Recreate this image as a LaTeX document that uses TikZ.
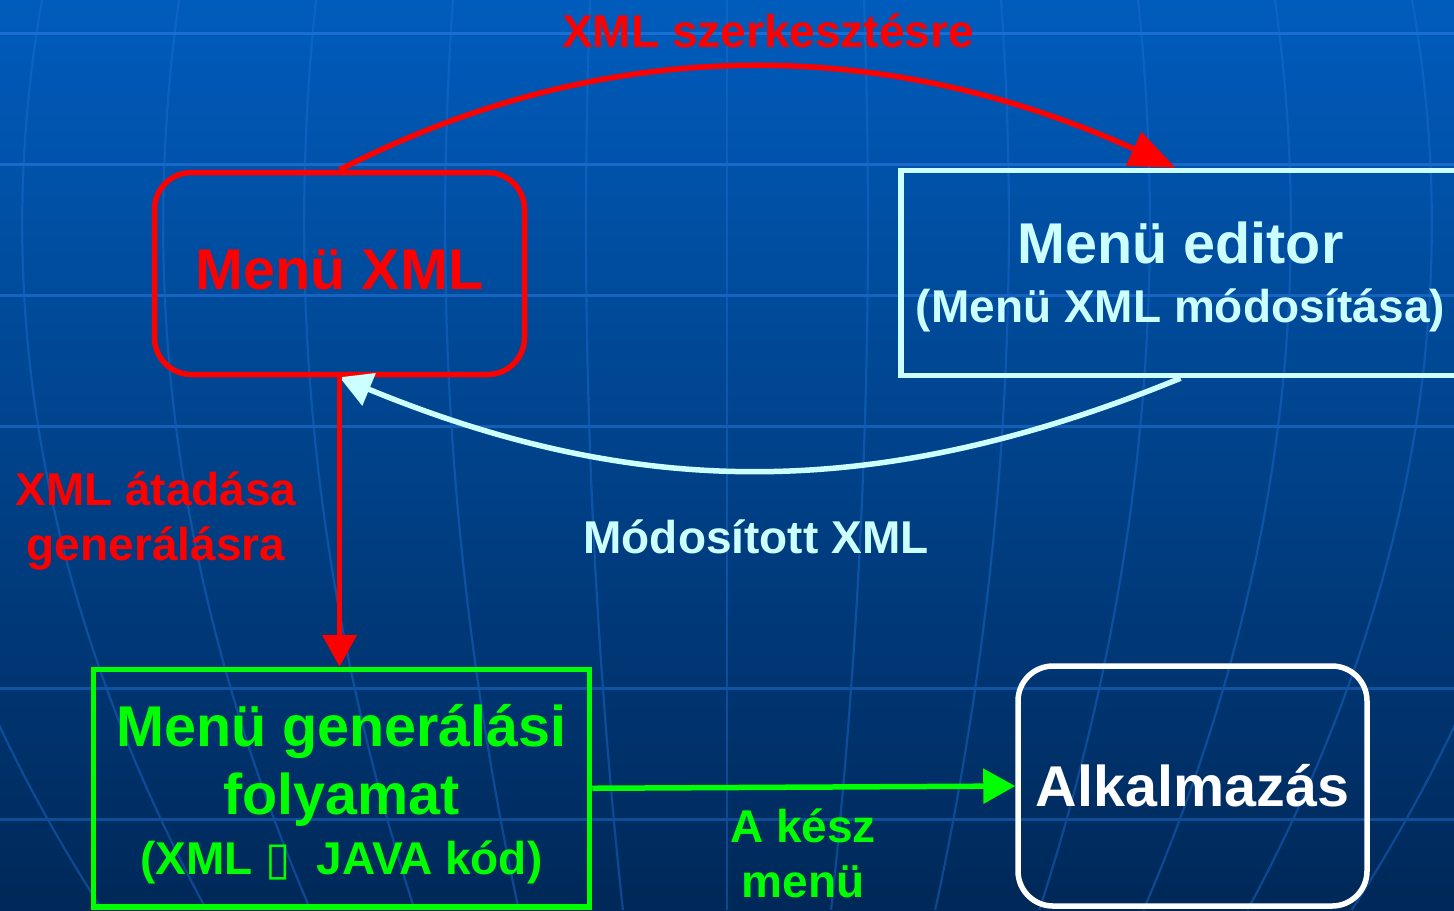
\documentclass[tikz,border=0pt]{standalone}
\usepackage{fontspec}
\setmainfont{Liberation Sans}
\newfontfamily\tofufont{DejaVu Sans}
\usetikzlibrary{arrows.meta}

\definecolor{bgtop}{RGB}{0,92,188}
\definecolor{bgbot}{RGB}{0,40,88}
\definecolor{gridtop}{RGB}{26,112,216}
\definecolor{gridbot}{RGB}{14,74,144}
\definecolor{meridian}{RGB}{30,110,210}
\definecolor{xmlred}{RGB}{255,0,0}
\definecolor{editcyan}{RGB}{204,255,255}
\definecolor{gengreen}{RGB}{0,255,0}

\begin{document}
\begin{tikzpicture}[
	x=0.1mm, y=-0.1mm,
	box/.style = {draw, line width=0.55mm, inner sep=0pt, align=center,
		font=\fontsize{16.36pt}{19.35pt}\selectfont\bfseries},
	small/.style = {font=\fontsize{13.09pt}{15.65pt}\selectfont\bfseries},
	lbl/.style = {small, inner sep=0pt, align=center},
	arr/.style = {line width=0.55mm, -{Triangle[length=3.2mm, width=3.4mm]}},
	sx-/.style = {xshift=-0.5mm}
	]
	\useasboundingbox (0,0) rectangle (1454,910);
	\clip (0,0) rectangle (1454,910);
%
	\shade[top color=bgtop, bottom color=bgbot] (0,0) rectangle (1454,910);
	\foreach \k in {-7,...,7}{
		\pgfmathsetmacro\xa{727+137*\k}
		\pgfmathsetmacro\xb{727+147.7*\k}
		\pgfmathsetmacro\xc{727+136.7*\k}
		\pgfmathsetmacro\xd{727+104.1*\k}
		\draw[meridian, opacity=.45, line width=0.22mm]
		(\xa,0) .. controls (\xb,303) and (\xc,607) .. (\xd,910);
	}
	\foreach \gy in {33,164,295,426,688,819}{
		\pgfmathtruncatemacro\gp{(910-\gy)/9.1}
		\draw[gridtop!\gp!gridbot, line width=0.3mm] (0,\gy) -- (1454,\gy);
	}
%
	\node[box, draw=xmlred, text=xmlred, rounded corners=3.7mm,
		minimum width=37mm, minimum height=20.2mm] (xml) at (339.5,273.5)
		{\rule[-0.7mm]{0pt}{0.7mm}Menü XML};
	\node[box, draw=editcyan, text=editcyan,
		minimum width=55.9mm, minimum height=20.5mm] (editor) at (1180.5,273)
		{\rule{0pt}{4.9mm}Menü editor\\[-2.56pt]{\fontsize{13.09pt}{15pt}\selectfont (Menü XML módosítása)}};
	\node[box, draw=gengreen, text=gengreen,
		minimum width=49.6mm, minimum height=23.75mm] (gen) at (341.5,788.25)
		{\rule{0pt}{5.3mm}Menü generálási\\folyamat\\[-2.28pt]{\fontsize{13.09pt}{15pt}\selectfont (XML {\tofufont ▯}~~JAVA kód)}};
	\node[box, draw=white, text=white, rounded corners=3.5mm,
		minimum width=34.9mm, minimum height=24mm] (alk) at (1192.5,786) {Alkalmazás};
%
	\draw[xmlred, line width=0.55mm, -{Triangle[length=4.6mm, width=3.6mm]}]
	(xml.north) .. controls (605,34) and (880,34) .. ([sx-] editor.north);
	\draw[editcyan, arr]
	(editor.south) .. controls (880,501) and (640,501) .. (xml.south);
	\draw[xmlred, arr, line width=0.5mm]
	(xml.south) -- (xml.south |- gen.north);
	\draw[gengreen, arr]
	(gen.east) -- (alk.west);
%
	\node[lbl, text=xmlred, anchor=base] (lbledit) at (768,47) {XML szerkesztésre};
	\node[lbl, text=editcyan, anchor=base] (lblmod) at (756,553) {Módosított XML};
	\node[lbl, text=xmlred] (lblgen) at (156,520.5) {XML átadása\\generálásra};
	\node[lbl, text=gengreen] (lblkesz) at (803,853) {A kész\\menü};
\end{tikzpicture}
\end{document}
